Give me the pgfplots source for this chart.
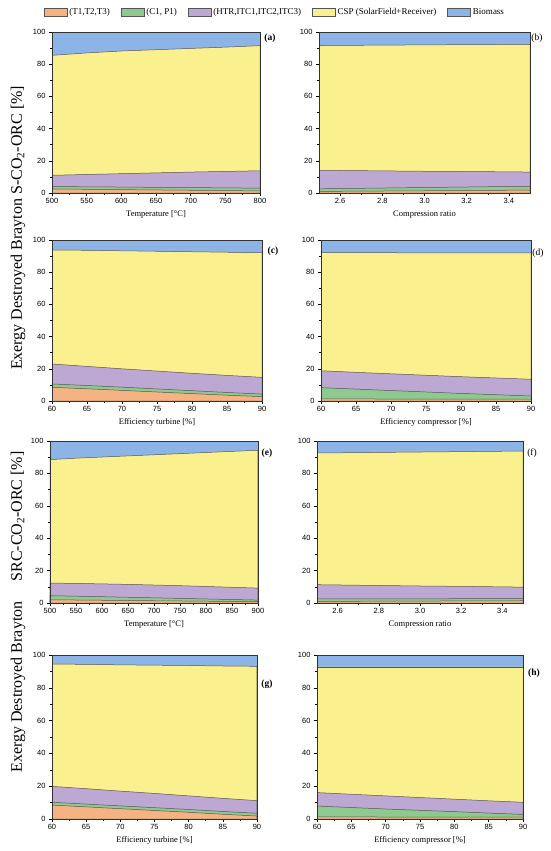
\documentclass[border=0pt]{standalone}
\usepackage{fontspec}
\setmainfont{Liberation Serif}
\setsansfont{Liberation Sans}
\usepackage{pgfplots}
\pgfplotsset{compat=1.18}
\definecolor{cT}{RGB}{245,178,130}
\definecolor{cC}{RGB}{142,202,144}
\definecolor{cH}{RGB}{188,168,211}
\definecolor{cS}{RGB}{250,241,142}
\definecolor{cB}{RGB}{141,180,230}
\definecolor{cL}{RGB}{85,85,85}
\pgfplotsset{
  panel/.style={
    scale only axis, axis on top, ymin=0, ymax=100, ytick={0,20,...,100}, minor y tick num=1,
    tick align=outside, xtick pos=left, ytick pos=left,
    major tick length=3pt, minor tick length=1.6pt,
    tick style={black, line width=0.5pt},
    tick label style={font=\sffamily\fontsize{7.5}{8}\selectfont},
    xticklabel style={yshift=1pt},
    label style={font=\fontsize{8.5}{10}\selectfont},
    xlabel style={yshift=0pt},
    /pgf/number format/assume math mode=true,
    axis line style={line width=0.6pt, black!80},
    every axis plot/.append style={draw=cL, line width=0.5pt},
    legend image code/.code={\draw[##1] (0pt,-4pt) rectangle (23pt,4pt);},
  },
  cr/.style={xmin=2.5,xmax=3.5, xtick={2.6,2.8,3.0,3.2,3.4}, minor x tick num=1,
    xticklabel={\pgfmathprintnumber[fixed,fixed zerofill,precision=1]{\tick}}},
  eff/.style={xmin=60,xmax=90, xtick={60,65,...,90}, minor x tick num=1},
}
\begin{document}
\begin{tikzpicture}
\useasboundingbox (0pt,0pt) rectangle (550pt,-851pt);

% (a)
\begin{axis}[panel, at={(52pt,-32pt)}, anchor=north west, width=208pt, height=161pt,
  xmin=500, xmax=800, xtick={500,550,...,800}, minor x tick num=1, xlabel={Temperature [°C]},
  reverse legend, legend columns=5,
  legend style={at={(1.072,1.124)}, anchor=center, draw=none, fill=none,
    font=\fontsize{9}{10}\selectfont, /tikz/every even column/.append style={column sep=9pt}}]
\addplot[fill=cB] coordinates {(500,100) (800,100)} \closedcycle;
\addplot[fill=cS] coordinates {(500,85.5) (550,87.0) (600,88.2) (650,89.0) (700,89.8) (750,90.6) (800,91.5)} \closedcycle;
\addplot[fill=cH] coordinates {(500,11.0) (550,11.5) (600,12.0) (650,12.5) (700,13.0) (750,13.4) (800,13.8)} \closedcycle;
\addplot[fill=cC] coordinates {(500,4.0) (550,3.85) (600,3.7) (650,3.5) (700,3.35) (750,3.2) (800,3.0)} \closedcycle;
\addplot[fill=cT] coordinates {(500,2.5) (550,2.3) (600,2.1) (650,1.9) (700,1.7) (750,1.5) (800,1.3)} \closedcycle;
\legend{Biomass, CSP (SolarField+Receiver), (HTR\kern0pt,ITC1\kern0pt,ITC2\kern0pt,ITC3), (C1\kern0pt, P1), (T1\kern0pt,T2\kern0pt,T3)}
\end{axis}

% (b)
\begin{axis}[panel, cr, at={(319pt,-32pt)}, anchor=north west, width=211pt, height=161pt, xlabel={Compression ratio}]
\addplot[fill=cB] coordinates {(2.5,100) (3.5,100)} \closedcycle;
\addplot[fill=cS] coordinates {(2.5,91.6) (2.75,91.8) (3.0,92.0) (3.25,92.2) (3.5,92.3)} \closedcycle;
\addplot[fill=cH] coordinates {(2.5,14.1) (2.75,13.8) (3.0,13.5) (3.25,13.3) (3.5,13.0)} \closedcycle;
\addplot[fill=cC] coordinates {(2.5,2.6) (2.75,3.0) (3.0,3.4) (3.25,3.8) (3.5,4.2)} \closedcycle;
\addplot[fill=cT] coordinates {(2.5,1.0) (2.75,1.2) (3.0,1.4) (3.25,1.6) (3.5,1.8)} \closedcycle;
\end{axis}

% (c)
\begin{axis}[panel, eff, at={(52pt,-240pt)}, anchor=north west, width=210pt, height=161pt, xlabel={Efficiency turbine [\%]}]
\addplot[fill=cB] coordinates {(60,100) (90,100)} \closedcycle;
\addplot[fill=cS] coordinates {(60,93.8) (65,93.6) (70,93.3) (75,93.0) (80,92.7) (85,92.4) (90,92.1)} \closedcycle;
\addplot[fill=cH] coordinates {(60,23.0) (65,21.5) (70,20.0) (75,18.6) (80,17.2) (85,15.9) (90,14.7)} \closedcycle;
\addplot[fill=cC] coordinates {(60,10.6) (65,9.6) (70,8.6) (75,7.5) (80,6.4) (85,5.3) (90,4.3)} \closedcycle;
\addplot[fill=cT] coordinates {(60,8.5) (65,7.6) (70,6.6) (75,5.6) (80,4.6) (85,3.6) (90,2.7)} \closedcycle;
\end{axis}

% (d)
\begin{axis}[panel, eff, at={(321pt,-240pt)}, anchor=north west, width=210pt, height=161pt, xlabel={Efficiency compressor [\%]}]
\addplot[fill=cB] coordinates {(60,100) (90,100)} \closedcycle;
\addplot[fill=cS] coordinates {(60,92.1) (65,92.1) (70,92.1) (75,92.0) (80,92.0) (85,92.0) (90,92.0)} \closedcycle;
\addplot[fill=cH] coordinates {(60,18.8) (65,17.8) (70,16.9) (75,16.0) (80,15.1) (85,14.3) (90,13.5)} \closedcycle;
\addplot[fill=cC] coordinates {(60,8.3) (65,7.4) (70,6.5) (75,5.6) (80,4.7) (85,3.9) (90,3.1)} \closedcycle;
\addplot[fill=cT] coordinates {(60,1.3) (65,1.3) (70,1.2) (75,1.2) (80,1.2) (85,1.1) (90,1.1)} \closedcycle;
\end{axis}

% (e)
\begin{axis}[panel, at={(50pt,-441pt)}, anchor=north west, width=208pt, height=162pt,
  xmin=500, xmax=900, xtick={500,550,...,900}, minor x tick num=1, xlabel={Temperature [°C]}]
\addplot[fill=cB] coordinates {(500,100) (900,100)} \closedcycle;
\addplot[fill=cS] coordinates {(500,88.5) (550,89.4) (600,90.1) (650,90.8) (700,91.5) (750,92.2) (800,92.9) (850,93.6) (900,94.3)} \closedcycle;
\addplot[fill=cH] coordinates {(500,12.3) (550,12.1) (600,11.8) (650,11.5) (700,11.1) (750,10.7) (800,10.2) (850,9.7) (900,9.2)} \closedcycle;
\addplot[fill=cC] coordinates {(500,4.5) (550,4.2) (600,3.9) (650,3.55) (700,3.2) (750,2.85) (800,2.5) (850,2.15) (900,1.8)} \closedcycle;
\addplot[fill=cT] coordinates {(500,2.0) (550,1.85) (600,1.7) (650,1.55) (700,1.4) (750,1.25) (800,1.1) (850,0.95) (900,0.8)} \closedcycle;
\end{axis}

% (f)
\begin{axis}[panel, cr, at={(317pt,-441pt)}, anchor=north west, width=206pt, height=162pt, xlabel={Compression ratio}]
\addplot[fill=cB] coordinates {(2.5,100) (3.5,100)} \closedcycle;
\addplot[fill=cS] coordinates {(2.5,92.6) (2.75,92.9) (3.0,93.2) (3.25,93.5) (3.5,93.8)} \closedcycle;
\addplot[fill=cH] coordinates {(2.5,11.3) (2.75,10.9) (3.0,10.5) (3.25,10.2) (3.5,9.8)} \closedcycle;
\addplot[fill=cC] coordinates {(2.5,2.5) (2.75,2.55) (3.0,2.6) (3.25,2.65) (3.5,2.7)} \closedcycle;
\addplot[fill=cT] coordinates {(2.5,1.0) (2.75,1.1) (3.0,1.2) (3.25,1.3) (3.5,1.4)} \closedcycle;
\end{axis}

% (g)
\begin{axis}[panel, eff, at={(52pt,-655pt)}, anchor=north west, width=205pt, height=164pt, xlabel={Efficiency turbine [\%]}]
\addplot[fill=cB] coordinates {(60,100) (90,100)} \closedcycle;
\addplot[fill=cS] coordinates {(60,94.5) (65,94.3) (70,94.0) (75,93.8) (80,93.6) (85,93.3) (90,93.1)} \closedcycle;
\addplot[fill=cH] coordinates {(60,19.9) (65,18.5) (70,17.0) (75,15.6) (80,14.1) (85,12.6) (90,11.2)} \closedcycle;
\addplot[fill=cC] coordinates {(60,10.2) (65,9.1) (70,8.0) (75,6.9) (80,5.8) (85,4.6) (90,3.5)} \closedcycle;
\addplot[fill=cT] coordinates {(60,8.5) (65,7.4) (70,6.3) (75,5.2) (80,4.1) (85,2.9) (90,1.8)} \closedcycle;
\end{axis}

% (h)
\begin{axis}[panel, eff, at={(317pt,-655pt)}, anchor=north west, width=206pt, height=164pt, xlabel={Efficiency compressor [\%]}]
\addplot[fill=cB] coordinates {(60,100) (90,100)} \closedcycle;
\addplot[fill=cS] coordinates {(60,92.8) (65,92.8) (70,92.8) (75,92.8) (80,92.8) (85,92.8) (90,92.8)} \closedcycle;
\addplot[fill=cH] coordinates {(60,16.1) (65,15.1) (70,14.1) (75,13.1) (80,12.1) (85,11.1) (90,10.2)} \closedcycle;
\addplot[fill=cC] coordinates {(60,7.9) (65,7.0) (70,6.1) (75,5.3) (80,4.5) (85,3.6) (90,2.8)} \closedcycle;
\addplot[fill=cT] coordinates {(60,1.3) (65,1.3) (70,1.2) (75,1.2) (80,1.2) (85,1.1) (90,1.1)} \closedcycle;
\end{axis}

% panel letters
\begin{scope}[every node/.style={font=\fontsize{9.5}{11}\selectfont, inner sep=0pt}]
\node at (270pt,-38pt) {\bfseries (a)};
\node at (537pt,-38pt) {(b)};
\node at (273pt,-251pt) {\bfseries (c)};
\node at (538pt,-253pt) {(d)};
\node at (267pt,-453pt) {\bfseries (e)};
\node at (532pt,-453pt) {(f)};
\node at (267pt,-684pt) {\bfseries (g)};
\node at (534pt,-673pt) {\bfseries (h)};
\end{scope}

% y labels
\node[rotate=90, font=\fontsize{16}{18}\selectfont] at (18pt,-228pt) {Exergy Destroyed Brayton S-CO\textsubscript{2}-ORC [\%]};
\node[rotate=90, font=\fontsize{16}{18}\selectfont] at (18pt,-612pt) {Exergy Destroyed Brayton~\quad SRC-CO\textsubscript{2}-ORC [\%]};
\end{tikzpicture}
\end{document}
